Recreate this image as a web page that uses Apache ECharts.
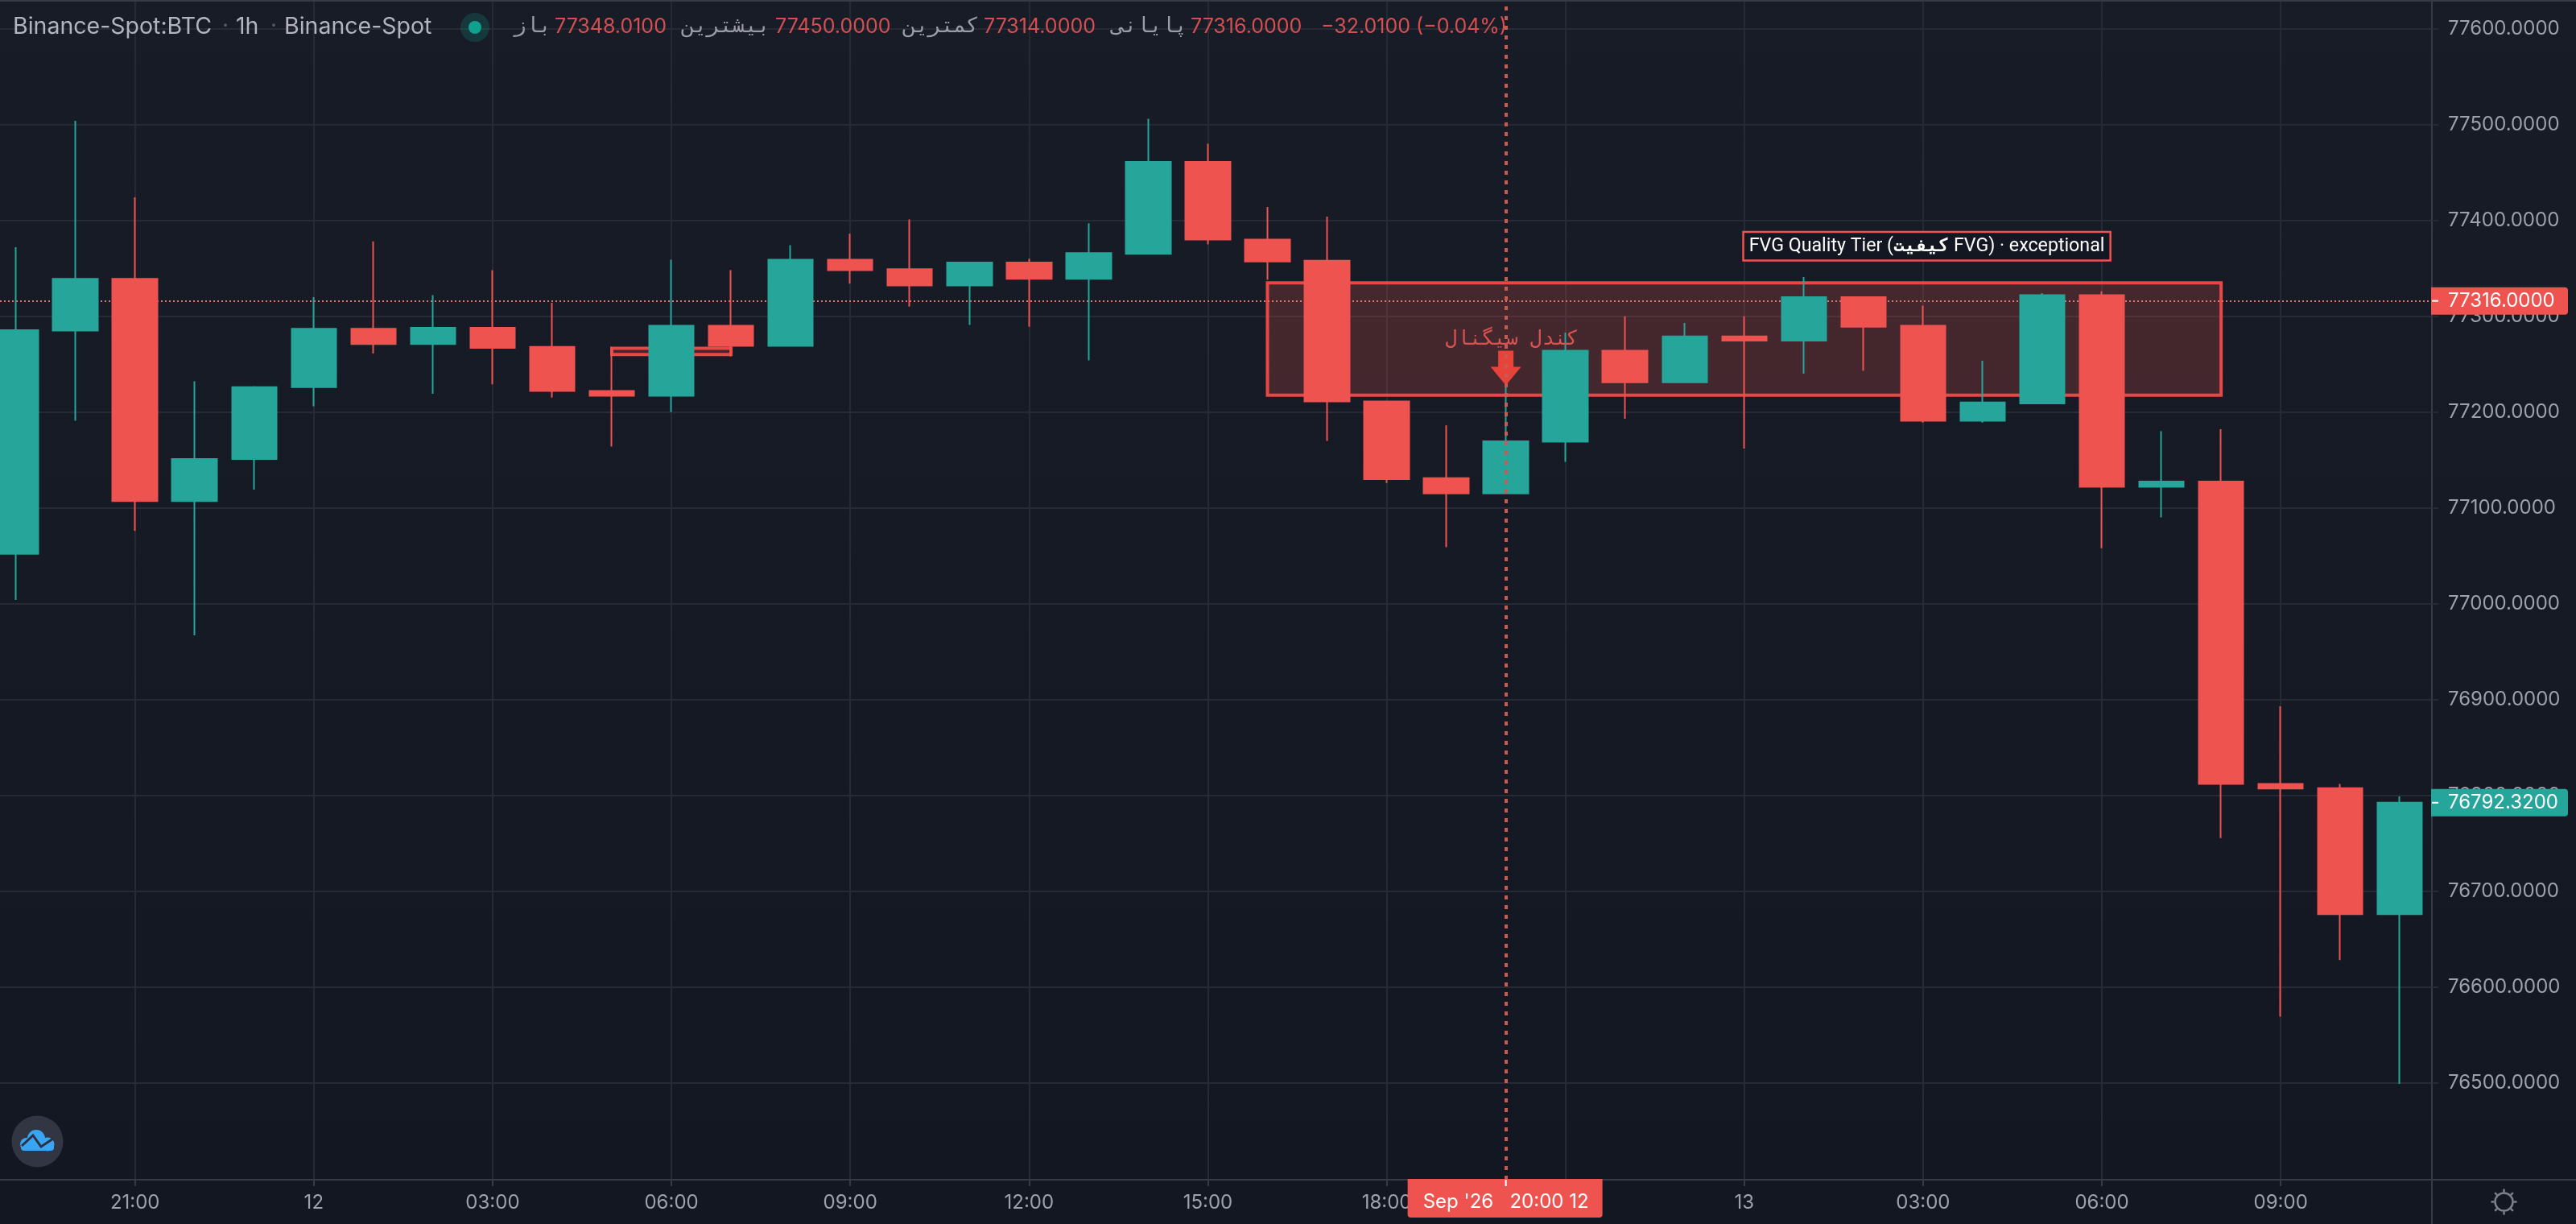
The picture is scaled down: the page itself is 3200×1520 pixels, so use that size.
<!DOCTYPE html>
<html>
<head>
<meta charset="utf-8">
<title>Binance-Spot:BTC 1h</title>
<script src="https://cdn.jsdelivr.net/npm/echarts@6/dist/echarts.min.js"></script>
<style>
html, body { margin: 0; padding: 0; background: #161a25; }
#chartDom { width: 3200px; height: 1520px; }
</style>
</head>
<body>
<div id="chartDom"></div>
<script>
// hours counted from 00:00 on Sep 11
var hours  = [19,20,21,22,23,24,25,26,27,28,29,30,31,32,33,34,35,36,37,38,39,40,41,42,43,44,45,46,47,48,49,50,51,52,53,54,55,56,57,58,59];
var opens  = [77052,77285,77339,77107,77151,77226,77287,77271,77288,77268,77222,77217,77290,77269,77359,77349,77332,77356,77339,77365,77461,77380,77358,77211,77131,77115,77169,77264,77231,77279,77274.5,77320,77290,77191,77209,77322,77122,77127.5,76812,76807.6,76676];
var closes = [77285.5,77339,77107,77151,77226,77287,77271,77288,77267,77222,77217,77290,77269,77359,77348,77332,77356,77339,77366,77461,77380,77357,77211,77130,77115,77169.5,77264,77231,77279,77274.5,77320,77289,77191,77210,77322,77122,77127.5,76812,76807,76676,76792.32];
var lows   = [77004,77191,77076,76967,77119,77206,77261,77219,77229,77215,77164,77200,77258,77269,77334,77310,77291,77289,77254,77365,77375,77338,77170,77126,77059,77115,77148,77193,77231,77162,77240,77243,77189,77189,77209,77058,77090,76755.5,76569,76628,76499];
var highs  = [77372,77504,77424,77232,77227,77320,77378,77322,77348,77314,77268,77359,77348,77374,77386,77401,77356,77360,77397,77506,77480,77414,77404,77212,77186,77227,77283,77300,77293,77300,77341,77320,77311,77253.5,77324,77326,77180,77182,76893,76812,76799];

var xTickHours  = [21,24,27,30,33,36,39,42,45,48,51,54,57];
var xTickLabels = ['21:00','12','03:00','06:00','09:00','12:00','15:00','18:00','21:00','13','03:00','06:00','09:00'];
var yTicks = [76500,76600,76700,76800,76900,77000,77100,77200,77300,77400,77500,77600];

var lastClose = 77316;      // price line of the hovered candle
var seriesLast = 76792.32;  // last candle close
var crossHour = 44;
var crossLabel = "Sep '26   20:00 12";
var fvgZone = [40, 56, 77217.6, 77334.8];     // from hour, to hour, low, high
var smallZone = [29, 31, 77260, 77266.5];
var signalPoint = [44, 77246];
var signalText = 'کندل سیگنال';
var signalTextPoint = [44.1, 77275.6];
var tierPoint = [48, 77373];

var GREEN = '#26a69a', RED = '#ef5350';
var GRID_COLOR = '#262a35', AXIS_COLOR = '#363a45', LABEL_COLOR = '#9ea1ab';
var FONT = 'Inter, "Noto Sans", sans-serif';
var MONO = '"DejaVu Sans Mono", monospace';

var candleData = hours.map(function (h, i) {
    return [h, opens[i], closes[i], lows[i], highs[i]];
});

var chartDom = document.getElementById('chartDom');
var myChart = echarts.init(chartDom);

var option = {
    animation: false,
    backgroundColor: {
        type: 'linear', x: 0, y: 0, x2: 0, y2: 1,
        colorStops: [{offset: 0, color: '#181c27'}, {offset: 1, color: '#131722'}]
    },
    grid: {left: 0, right: 179, top: 2, bottom: 55},
    xAxis: {
        type: 'value',
        min: 18.735,
        max: 59.537,
        axisLine: {show: true, onZero: false, lineStyle: {color: AXIS_COLOR, width: 2}},
        axisTick: {show: true, length: 8, customValues: xTickHours, lineStyle: {color: AXIS_COLOR, width: 2}},
        splitLine: {show: true, lineStyle: {color: GRID_COLOR, width: 2}},
        axisLabel: {
            customValues: xTickHours,
            margin: 17,
            color: LABEL_COLOR,
            fontFamily: FONT,
            fontSize: 24,
            hideOverlap: false,
            formatter: function (v) { return xTickLabels[xTickHours.indexOf(v)]; }
        }
    },
    yAxis: {
        type: 'value',
        position: 'right',
        min: 76398.9,
        max: 77628.3,
        axisLine: {show: true, onZero: false, lineStyle: {color: AXIS_COLOR, width: 2}},
        axisTick: {show: true, length: 8, customValues: yTicks, lineStyle: {color: GRID_COLOR, width: 2}},
        splitLine: {show: true, lineStyle: {color: GRID_COLOR, width: 2}},
        axisLabel: {
            customValues: yTicks,
            margin: 20,
            color: LABEL_COLOR,
            fontFamily: FONT,
            fontSize: 24,
            hideOverlap: false,
            formatter: function (v) { return v.toFixed(4); }
        }
    },
    series: [
        {
            type: 'candlestick',
            z: 3,
            barWidth: 56,
            data: candleData,
            itemStyle: {
                color: GREEN, color0: RED,
                borderColor: GREEN, borderColor0: RED,
                borderWidth: 2
            }
        },
        {
            // zones and the price line sit under the candles
            type: 'line',
            data: [],
            silent: true,
            markArea: {
                z: 1,
                silent: true,
                itemStyle: {color: 'rgba(239,83,80,0.21)', borderColor: '#ea4646', borderWidth: 4},
                data: [
                    [{coord: [fvgZone[0], fvgZone[3]]}, {coord: [fvgZone[1], fvgZone[2]]}],
                    [{coord: [smallZone[0], smallZone[3]]}, {coord: [smallZone[1], smallZone[2]]}]
                ]
            },
            markLine: {
                z: 2,
                silent: true,
                symbol: ['none', 'none'],
                label: {show: false},
                lineStyle: {color: '#d9756b', width: 2, type: [2, 3]},
                data: [{yAxis: lastClose}]
            }
        },
        {
            // signal arrow and its captions
            type: 'line',
            data: [],
            silent: true,
            markPoint: {
                z: 4,
                silent: true,
                data: [
                    {
                        coord: signalPoint,
                        symbol: 'path://M5 0 L15 0 L15 20 L20 20 L10 43 L0 20 L5 20 Z',
                        symbolSize: [38, 43],
                        itemStyle: {color: '#e8433a'},
                        label: {show: false}
                    },
                    {
                        coord: signalTextPoint,
                        symbol: 'circle',
                        symbolSize: 0,
                        label: {
                            show: true, position: 'inside', formatter: signalText,
                            color: '#d9534f', fontFamily: MONO, fontSize: 25
                        }
                    },
                    {
                        coord: tierPoint,
                        symbol: 'circle',
                        symbolSize: 0,
                        label: {
                            show: true, position: 'right', distance: 0,
                            formatter: 'FVG Quality Tier ({fa|کیفیت} FVG) · exceptional',
                            color: '#ffffff', fontFamily: 'Roboto, "DejaVu Sans", sans-serif', fontSize: 23.2,
                            backgroundColor: '#131722', borderColor: RED, borderWidth: 2.5,
                            padding: [5, 6],
                            rich: {fa: {color: '#ffffff', fontFamily: MONO, fontSize: 23, fontWeight: 'bold'}}
                        }
                    }
                ]
            }
        },
        {
            // crosshair on top of everything
            type: 'line',
            data: [],
            silent: true,
            markLine: {
                z: 5,
                silent: true,
                symbol: ['none', 'none'],
                label: {show: false},
                lineStyle: {color: '#c75b52', width: 4, type: [5, 7]},
                data: [{xAxis: crossHour}]
            }
        }
    ]
};
myChart.setOption(option);

// header strip: [text, x, color, font, size]
var headerRed = '#d64f50', headerGray = '#9a9da7', headerName = '#b2b5be';
var headerItems = [
    ['Binance-Spot:BTC', 16, headerName, FONT, 28.5],
    ['·', 276, '#565a66', FONT, 28],
    ['1h', 293, headerName, FONT, 28.5],
    ['·', 336, '#565a66', FONT, 28],
    ['Binance-Spot', 353, headerName, FONT, 28.5],
    ['باز', 638, headerGray, MONO, 26],
    ['77348.0100', 689, headerRed, FONT, 25],
    ['بیشترین', 847, headerGray, MONO, 26],
    ['77450.0000', 963, headerRed, FONT, 25],
    ['کمترین', 1122, headerGray, MONO, 26],
    ['77314.0000', 1222, headerRed, FONT, 25],
    ['پایانی', 1381, headerGray, MONO, 26],
    ['77316.0000', 1479, headerRed, FONT, 25],
    ['−32.0100 (−0.04%)', 1641, headerRed, FONT, 25]
];

function lineEl(x1, y1, x2, y2, color, width, z) {
    return {type: 'line', z: z || 50, silent: true,
        shape: {x1: x1, y1: y1, x2: x2, y2: y2},
        style: {stroke: color, lineWidth: width}};
}

function textEl(text, x, y, color, font, size, align) {
    return {type: 'text', z: 60, silent: true, x: x, y: y,
        style: {text: text, fill: color, fontFamily: font, fontSize: size,
            align: align || 'left', verticalAlign: 'middle'}};
}

function priceBadge(price, color, text) {
    var py = myChart.convertToPixel({yAxisIndex: 0}, price);
    return [
        {type: 'rect', z: 55, silent: true,
            shape: {x: 3020, y: py - 17, width: 170, height: 34, r: [0, 4, 4, 0]},
            style: {fill: color}},
        lineEl(3021, py, 3029, py, '#ffffff', 2, 56),
        textEl(text, 3041, py, '#ffffff', FONT, 24)
    ];
}

var elements = [
    lineEl(0, 1, 3200, 1, AXIS_COLOR, 2),
    lineEl(3021, 1465, 3200, 1465, AXIS_COLOR, 2),
    lineEl(3021, 1465, 3021, 1520, AXIS_COLOR, 2)
];

headerItems.forEach(function (it) {
    elements.push(textEl(it[0], it[1], 33, it[2], it[3], it[4]));
});

// status dot
elements.push({type: 'circle', z: 60, silent: true, shape: {cx: 590, cy: 34, r: 18}, style: {fill: 'rgba(16,160,142,0.22)'}});
elements.push({type: 'circle', z: 61, silent: true, shape: {cx: 590, cy: 34, r: 8}, style: {fill: '#10a08e'}});

// badges follow the axes
elements = elements.concat(priceBadge(lastClose, RED, lastClose.toFixed(4)));
elements = elements.concat(priceBadge(seriesLast, GREEN, seriesLast.toFixed(4)));

var crossX = myChart.convertToPixel({xAxisIndex: 0}, crossHour);
elements.push({type: 'rect', z: 55, silent: true,
    shape: {x: crossX - 122, y: 1464, width: 242, height: 48, r: [0, 0, 4, 4]},
    style: {fill: RED}});
elements.push(lineEl(crossX, 1465, crossX, 1473, '#ffffff', 2, 56));
elements.push(textEl(crossLabel, crossX, 1493, '#ffffff', FONT, 24, 'center'));

// logo bottom left, cloud built from circles
elements.push({type: 'circle', z: 60, silent: true, shape: {cx: 46.5, cy: 1417.5, r: 32}, style: {fill: '#323643'}});
[[45, 1414, 11], [33, 1421, 8], [59, 1421, 8.5]].forEach(function (c) {
    elements.push({type: 'circle', z: 61, silent: true, shape: {cx: c[0], cy: c[1], r: c[2]}, style: {fill: '#3aa5f2'}});
});
elements.push({type: 'rect', z: 61, silent: true,
    shape: {x: 26, y: 1420, width: 41, height: 9, r: 4},
    style: {fill: '#3aa5f2'}});
elements.push({type: 'polyline', z: 62, silent: true,
    shape: {points: [[27, 1423], [41, 1410], [51, 1424], [66, 1414]]},
    style: {stroke: '#2c3040', lineWidth: 3, fill: null}});

// sun icon bottom right
var sunX = 3110.5, sunY = 1492.5;
elements.push({type: 'circle', z: 60, silent: true, shape: {cx: sunX, cy: sunY, r: 11}, style: {fill: 'none', stroke: '#7d808b', lineWidth: 2.5}});
[0, 45, 90, 135, 180, 225, 270, 315].forEach(function (deg) {
    var a = deg * Math.PI / 180;
    elements.push(lineEl(sunX + Math.cos(a) * 12, sunY + Math.sin(a) * 12,
        sunX + Math.cos(a) * 16, sunY + Math.sin(a) * 16, '#7d808b', 2.5, 60));
});

myChart.setOption({graphic: elements});
</script>
</body>
</html>
